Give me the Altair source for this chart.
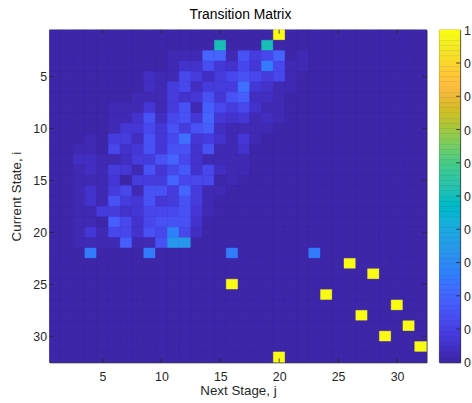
import altair as alt
import pandas as pd

# ---------------- data: transition matrix rows (column -> probability) ----------------
r01 = {20: 1.0}
r02 = {15: 0.5, 19: 0.5}
r03 = {11: .03, 12: .03, 13: .02, 14: .19, 15: .19, 16: .02, 17: .15, 18: .08, 19: .12, 20: .19, 21: .01, 22: .03}
r04 = {11: .03, 12: .055, 13: .055, 14: .13, 15: .065, 16: .055, 17: .12, 18: .065, 19: .26, 20: .12, 21: .02, 22: .02}
r05 = {9: .045, 10: .02, 11: .03, 12: .12, 13: .09, 14: .045, 15: .09, 16: .11, 17: .15, 18: .11, 19: .09, 20: .11, 21: .03, 22: .01}
r06 = {9: .045, 10: .02, 11: .09, 12: .12, 13: .045, 14: .09, 15: .09, 16: .09, 17: .22, 18: .065, 19: .055, 20: .03, 21: .02}
r07 = {8: .02, 9: .03, 10: .02, 11: .09, 12: .055, 13: .065, 14: .15, 15: .065, 16: .15, 17: .18, 18: .045, 19: .045, 20: .02, 21: .01}
r08 = {6: .02, 7: .02, 8: .02, 9: .065, 10: .02, 11: .09, 12: .15, 13: .03, 14: .18, 15: .11, 16: .09, 17: .11, 18: .055, 19: .02, 20: .03, 21: .01}
r09 = {6: .02, 7: .02, 8: .055, 9: .15, 10: .045, 11: .11, 12: .15, 13: .065, 14: .19, 15: .065, 16: .055, 17: .065, 18: .02, 19: .045, 20: .02}
r10 = {6: .03, 7: .065, 8: .065, 9: .12, 10: .065, 11: .15, 12: .09, 13: .15, 14: .18, 15: .045, 16: .03, 17: .03, 18: .02, 19: .03, 20: .01}
r11 = {4: .03, 5: .01, 6: .09, 7: .09, 8: .045, 9: .15, 10: .065, 11: .12, 12: .22, 13: .065, 14: .09, 15: .055, 16: .03, 17: .065, 18: .02, 19: .01}
r12 = {2: .01, 3: .02, 4: .02, 5: .01, 6: .12, 7: .055, 8: .065, 9: .15, 10: .065, 11: .15, 12: .15, 13: .055, 14: .15, 15: .02, 16: .02, 17: .055}
r13 = {2: .01, 3: .045, 4: .045, 5: .03, 6: .03, 7: .045, 8: .08, 9: .09, 10: .15, 11: .19, 12: .12, 13: .055, 14: .02, 15: .02, 16: .02, 17: .03}
r14 = {2: .01, 3: .03, 4: .045, 5: .03, 6: .09, 7: .065, 8: .02, 9: .15, 10: .065, 11: .12, 12: .17, 13: .055, 14: .12, 15: .045, 16: .02, 17: .03}
r15 = {2: .01, 3: .03, 4: .03, 5: .02, 6: .065, 7: .01, 8: .09, 9: .09, 10: .09, 11: .19, 12: .12, 13: .12, 14: .12, 15: .01, 16: .02}
r16 = {2: .01, 3: .02, 4: .055, 5: .02, 6: .08, 7: .12, 8: .02, 9: .15, 10: .15, 11: .09, 12: .19, 13: .08, 14: .03, 15: .03}
r17 = {2: .01, 3: .03, 4: .055, 5: .03, 6: .15, 7: .09, 8: .065, 9: .15, 10: .065, 11: .09, 12: .15, 13: .09, 14: .03}
r18 = {2: .01, 3: .03, 4: .03, 5: .09, 6: .09, 7: .055, 8: .065, 9: .12, 10: .12, 11: .12, 12: .15, 13: .065, 14: .02}
r19 = {2: .01, 3: .03, 4: .03, 5: .01, 6: .18, 7: .12, 8: .055, 9: .12, 10: .15, 11: .15, 12: .15, 13: .055}
r20 = {2: .01, 3: .03, 4: .065, 5: .03, 6: .12, 7: .12, 8: .055, 9: .15, 10: .12, 11: .28, 12: .12, 13: .045}
r21 = {3: .02, 4: .02, 5: .02, 6: .02, 7: .18, 8: .02, 9: .02, 10: .15, 11: .34, 12: .34}
r22 = {4: .25, 9: .25, 16: .25, 23: .25}
r23 = {26: 1.0}
r24 = {28: 1.0}
r25 = {16: 1.0}
r26 = {24: 1.0}
r27 = {30: 1.0}
r28 = {27: 1.0}
r29 = {31: 1.0}
r30 = {29: 1.0}
r31 = {32: 1.0}
r32 = {20: 1.0}

ROWS = [r01, r02, r03, r04, r05, r06, r07, r08, r09, r10, r11, r12, r13, r14, r15, r16,
        r17, r18, r19, r20, r21, r22, r23, r24, r25, r26, r27, r28, r29, r30, r31, r32]
N_STATES = 32
AXIS_TICKS = [5, 10, 15, 20, 25, 30]
CB_TICKS = [0, 0.1, 0.2, 0.3, 0.4, 0.5, 0.6, 0.7, 0.8, 0.9, 1]
# colorbar tick labels as they appear (clipped at the right edge of the figure)
CB_LABELS = ['0', '0', '0', '0', '0', '0', '0', '0', '0', '0', '1']
CB_INNER_TICKS = [0.1, 0.2, 0.3, 0.4, 0.5, 0.6, 0.7, 0.8, 0.9]

# ---------------- parula colormap (64 entries) ----------------
PARULA = [
    (0.2422, 0.1504, 0.6603), (0.2504, 0.1650, 0.7076), (0.2578, 0.1818, 0.7511), (0.2647, 0.1978, 0.7952),
    (0.2706, 0.2147, 0.8364), (0.2751, 0.2342, 0.8710), (0.2783, 0.2559, 0.8991), (0.2803, 0.2782, 0.9221),
    (0.2813, 0.3006, 0.9414), (0.2810, 0.3228, 0.9579), (0.2795, 0.3447, 0.9717), (0.2760, 0.3667, 0.9829),
    (0.2699, 0.3892, 0.9906), (0.2602, 0.4123, 0.9952), (0.2440, 0.4358, 0.9988), (0.2206, 0.4603, 0.9973),
    (0.1963, 0.4847, 0.9892), (0.1834, 0.5074, 0.9798), (0.1786, 0.5289, 0.9682), (0.1764, 0.5499, 0.9520),
    (0.1687, 0.5703, 0.9359), (0.1540, 0.5902, 0.9218), (0.1460, 0.6091, 0.9079), (0.1380, 0.6276, 0.8973),
    (0.1248, 0.6459, 0.8883), (0.1113, 0.6635, 0.8763), (0.0952, 0.6798, 0.8598), (0.0689, 0.6948, 0.8394),
    (0.0297, 0.7082, 0.8163), (0.0036, 0.7203, 0.7917), (0.0067, 0.7312, 0.7660), (0.0433, 0.7411, 0.7394),
    (0.0964, 0.7500, 0.7120), (0.1408, 0.7584, 0.6842), (0.1717, 0.7670, 0.6554), (0.1938, 0.7758, 0.6251),
    (0.2161, 0.7843, 0.5923), (0.2470, 0.7918, 0.5567), (0.2906, 0.7973, 0.5188), (0.3406, 0.8008, 0.4789),
    (0.3909, 0.8029, 0.4354), (0.4456, 0.8024, 0.3909), (0.5044, 0.7993, 0.3480), (0.5616, 0.7942, 0.3045),
    (0.6174, 0.7876, 0.2612), (0.6720, 0.7793, 0.2227), (0.7242, 0.7698, 0.1910), (0.7738, 0.7598, 0.1646),
    (0.8203, 0.7498, 0.1535), (0.8634, 0.7406, 0.1596), (0.9035, 0.7330, 0.1774), (0.9393, 0.7288, 0.2100),
    (0.9728, 0.7298, 0.2394), (0.9956, 0.7434, 0.2371), (0.9970, 0.7659, 0.2199), (0.9952, 0.7893, 0.2028),
    (0.9892, 0.8136, 0.1885), (0.9786, 0.8386, 0.1766), (0.9676, 0.8639, 0.1643), (0.9610, 0.8890, 0.1537),
    (0.9597, 0.9135, 0.1423), (0.9628, 0.9373, 0.1265), (0.9691, 0.9606, 0.1064), (0.9769, 0.9839, 0.0805),
]
COLORS = ['#%02x%02x%02x' % tuple(int(round(c * 255)) for c in rgb) for rgb in PARULA]

# ---------------- tables ----------------
recs = []
for i, row in enumerate(ROWS, start=1):
    for j in range(1, N_STATES + 1):
        recs.append({'i': i, 'j': j, 'v': float(row.get(j, 0.0)),
                     'x0': j - 0.5, 'x1': j + 0.5, 'y0': i - 0.5, 'y1': i + 0.5})
df = pd.DataFrame(recs)
ticks_df = pd.DataFrame({'t': AXIS_TICKS})

n = len(COLORS)
cb_df = pd.DataFrame({'lo': [k / n for k in range(n)],
                      'hi': [(k + 1) / n for k in range(n)],
                      'mid': [(k + 0.5) / n for k in range(n)]})
cb_ticks_df = pd.DataFrame({'t': CB_INNER_TICKS})
cb_labels_df = pd.DataFrame({'t': CB_TICKS, 'lab': CB_LABELS})

FONT = 'Liberation Sans'
INK = '#262626'
W, H = 381, 336
CBW = 21
TL = 4

color_scale = alt.Scale(type='quantize', domain=[0, 1], range=COLORS)
xs = alt.Scale(domain=[0.5, N_STATES + 0.5], nice=False, zero=False)
ys = alt.Scale(domain=[0.5, N_STATES + 0.5], nice=False, zero=False, reverse=True)

heat = alt.Chart(df).mark_rect(strokeWidth=0.4).encode(
    x=alt.X('x0:Q', scale=xs,
            axis=alt.Axis(values=AXIS_TICKS, format='d', title='Next Stage, j', grid=False,
                          ticks=False, tickSize=0, domain=False, labelPadding=8, titlePadding=1)),
    x2='x1:Q',
    y=alt.Y('y0:Q', scale=ys,
            axis=alt.Axis(values=AXIS_TICKS, format='d', title='Current State, i', grid=False,
                          ticks=False, tickSize=0, domain=False, labelPadding=3, titlePadding=9)),
    y2='y1:Q',
    color=alt.Color('v:Q', scale=color_scale, legend=None),
    stroke=alt.Stroke('v:Q', scale=color_scale, legend=None),
)

rule = dict(color=INK, strokeWidth=0.8)
xt_bottom = alt.Chart(ticks_df).mark_rule(**rule).encode(x='t:Q', y=alt.value(H), y2=alt.value(H - TL))
xt_top = alt.Chart(ticks_df).mark_rule(**rule).encode(x='t:Q', y=alt.value(0), y2=alt.value(TL))
yt_left = alt.Chart(ticks_df).mark_rule(**rule).encode(y='t:Q', x=alt.value(0), x2=alt.value(TL))
yt_right = alt.Chart(ticks_df).mark_rule(**rule).encode(y='t:Q', x=alt.value(W - TL), x2=alt.value(W))

main = alt.layer(heat, xt_bottom, xt_top, yt_left, yt_right).properties(width=W, height=H)

cb_y = alt.Scale(domain=[0, 1], nice=False, zero=False)
cbar_rect = alt.Chart(cb_df).mark_rect(strokeWidth=0.4).encode(
    x=alt.value(0), x2=alt.value(CBW),
    y=alt.Y('lo:Q', scale=cb_y, axis=None),
    y2='hi:Q',
    color=alt.Color('mid:Q', scale=color_scale, legend=None),
    stroke=alt.Stroke('mid:Q', scale=color_scale, legend=None),
)
cbar_ticks = alt.Chart(cb_ticks_df).mark_rule(**rule).encode(
    y=alt.Y('t:Q', axis=None), x=alt.value(CBW - TL), x2=alt.value(CBW))
cbar_labels = alt.Chart(cb_labels_df).mark_text(
    align='left', baseline='middle', font=FONT, fontSize=12.5, color=INK, dy=1
).encode(y=alt.Y('t:Q', axis=None), x=alt.value(CBW + 4), text='lab:N')
cbar = alt.layer(cbar_rect, cbar_ticks, cbar_labels).properties(width=CBW, height=H)

chart = alt.hconcat(main, cbar, spacing=11).properties(
    title=alt.Title('Transition Matrix', fontSize=14, fontWeight='normal', font=FONT,
                    color='#000000', offset=2, anchor='middle'),
    padding={'left': 9, 'top': 6, 'right': 0, 'bottom': 2},
    background='white',
).configure_view(
    stroke=INK, strokeWidth=1, fill='#3e26a8'
).configure_axis(
    labelFont=FONT, titleFont=FONT, labelFontSize=12.5, titleFontSize=13.5,
    labelColor=INK, titleColor=INK, titleFontWeight='normal'
)

chart.save('out.html', embed_options={'renderer': 'svg', 'actions': False})
